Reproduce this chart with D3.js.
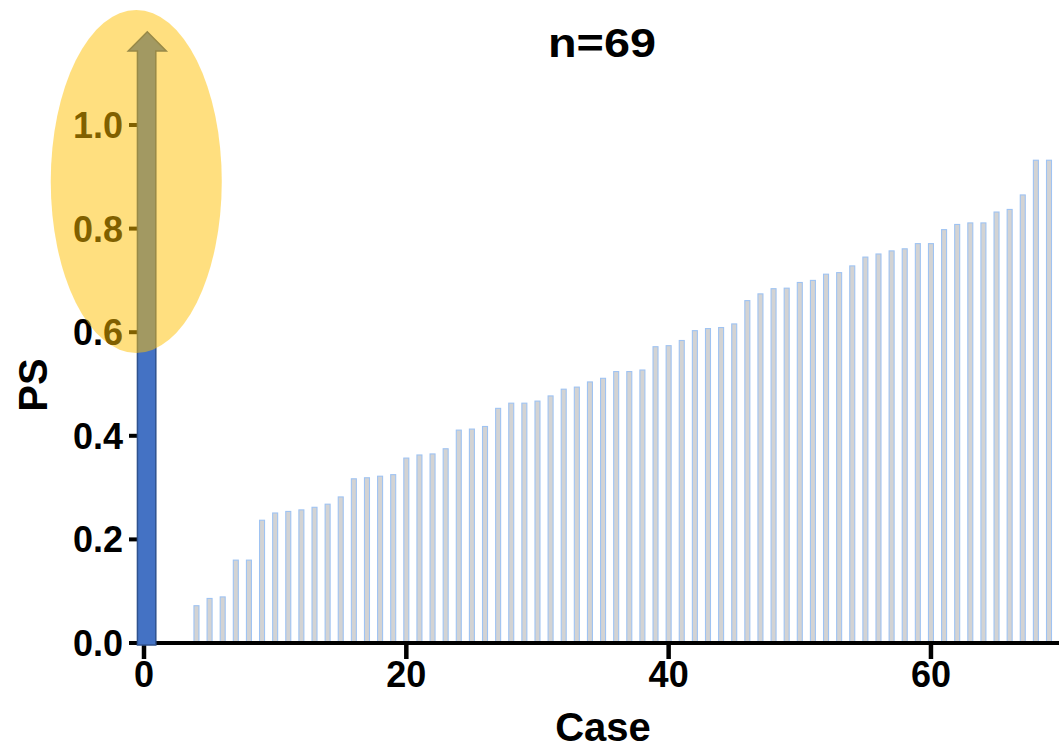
<!DOCTYPE html>
<html>
<head>
<meta charset="utf-8">
<script src="https://cdn.jsdelivr.net/npm/d3@7"></script>
<style>
  html, body { margin: 0; padding: 0; background: #fff; }
  svg { display: block; }
  text { font-family: "Liberation Sans", Arial, Helvetica, sans-serif; font-weight: bold; }
</style>
</head>
<body>
<svg id="chart" width="1059" height="749"></svg>
<script>
// Sorted PS score per case (cases 1-3 scored 0 and draw no bar)
const cases = d3.range(1, 70);
const psValues = [
  0, 0, 0,
  0.072, 0.086, 0.089, 0.160, 0.160, 0.237, 0.251, 0.254, 0.257, 0.262,
  0.268, 0.282, 0.317, 0.319, 0.322, 0.325, 0.357, 0.363, 0.365, 0.375,
  0.411, 0.413, 0.418, 0.453, 0.463, 0.463, 0.467, 0.477, 0.490, 0.494,
  0.504, 0.511, 0.524, 0.524, 0.527, 0.572, 0.574, 0.584, 0.603, 0.607,
  0.609, 0.616, 0.661, 0.674, 0.684, 0.685, 0.696, 0.700, 0.712, 0.715,
  0.728, 0.745, 0.751, 0.757, 0.761, 0.771, 0.771, 0.798, 0.808, 0.811,
  0.811, 0.832, 0.837, 0.865, 0.932, 0.932
];
const xTicks = [0, 20, 40, 60];
const yTicks = [0, 0.2, 0.4, 0.6, 0.8, 1.0];
const titleText = "n=69";
const xLabel = "Case";
const yLabel = "PS";

// Reference arrow at case 0 rising past the top of the scale
const arrowCase = 0;
const arrowTip = 1.18;
// Highlighted region around the upper part of the PS scale
const highlight = { cx: -0.59, cy: 0.891, rx: 6.52, ry: 0.331 };

const svg = d3.select("#chart");
const x = d3.scaleLinear().domain([0, 69]).range([144, 1049]);
const y = d3.scaleLinear().domain([0, 1]).range([643, 125]);

const data = cases.map((c, i) => ({ c, v: psValues[i] })).filter(d => d.v > 0);

// Bars
const barW = 5;
svg.append("g").selectAll("rect").data(data).join("rect")
  .attr("x", d => x(d.c) - barW / 2)
  .attr("y", d => y(d.v))
  .attr("width", barW)
  .attr("height", d => y(0) - y(d.v))
  .attr("fill", "#d3d3d3")
  .attr("stroke", "#9fc3f2")
  .attr("stroke-width", 1.1);

// X axis
const xAxis = svg.append("g").attr("transform", `translate(0,${y(0)})`);
xAxis.append("line")
  .attr("x1", x(-0.5)).attr("x2", 1059)
  .attr("stroke", "#000").attr("stroke-width", 4);
xAxis.selectAll("line.tick").data(xTicks).join("line")
  .attr("class", "tick")
  .attr("x1", d => x(d)).attr("x2", d => x(d))
  .attr("y1", 0).attr("y2", 16)
  .attr("stroke", "#000").attr("stroke-width", 4.5);
xAxis.selectAll("text").data(xTicks).join("text")
  .attr("x", d => x(d)).attr("y", 44)
  .attr("text-anchor", "middle")
  .attr("font-size", 36)
  .text(d => d);

// Y axis
const yAxis = svg.append("g");
yAxis.selectAll("line").data(yTicks).join("line")
  .attr("x1", 129).attr("x2", 140)
  .attr("y1", d => y(d)).attr("y2", d => y(d))
  .attr("stroke", "#000").attr("stroke-width", 4);
yAxis.selectAll("text").data(yTicks).join("text")
  .attr("x", 123).attr("y", d => y(d))
  .attr("dy", "0.36em")
  .attr("text-anchor", "end")
  .attr("font-size", 36)
  .text(d => d3.format(".1f")(d));

// Arrow
const ax0 = x(arrowCase - 0.5), ax1 = x(arrowCase + 0.9);
const hx0 = x(arrowCase - 1.2), hx1 = x(arrowCase + 1.7);
const headBase = y(arrowTip - 0.037);
const arrowPath = d3.path();
arrowPath.moveTo(ax0, y(0) + 2);
arrowPath.lineTo(ax0, headBase);
arrowPath.lineTo(hx0, headBase);
arrowPath.lineTo((hx0 + hx1) / 2, y(arrowTip));
arrowPath.lineTo(hx1, headBase);
arrowPath.lineTo(ax1, headBase);
arrowPath.lineTo(ax1, y(0) + 2);
arrowPath.closePath();
svg.append("path")
  .attr("d", arrowPath.toString())
  .attr("fill", "#4472c4")
  .attr("stroke", "#2f528f")
  .attr("stroke-width", 1.5);

// Highlight ellipse
svg.append("ellipse")
  .attr("cx", x(highlight.cx))
  .attr("cy", y(highlight.cy))
  .attr("rx", x(highlight.rx) - x(0))
  .attr("ry", y(0) - y(highlight.ry))
  .attr("fill", "#ffc000")
  .attr("fill-opacity", 0.5);

// Title and axis labels
svg.append("text")
  .attr("x", 602).attr("y", 57)
  .attr("text-anchor", "middle")
  .attr("font-size", 40)
  .attr("textLength", 108)
  .attr("lengthAdjust", "spacingAndGlyphs")
  .text(titleText);
svg.append("text")
  .attr("x", 603).attr("y", 741)
  .attr("text-anchor", "middle")
  .attr("font-size", 40)
  .text(xLabel);
svg.append("text")
  .attr("transform", "translate(47,385) rotate(-90)")
  .attr("text-anchor", "middle")
  .attr("font-size", 40)
  .text(yLabel);
</script>
</body>
</html>
